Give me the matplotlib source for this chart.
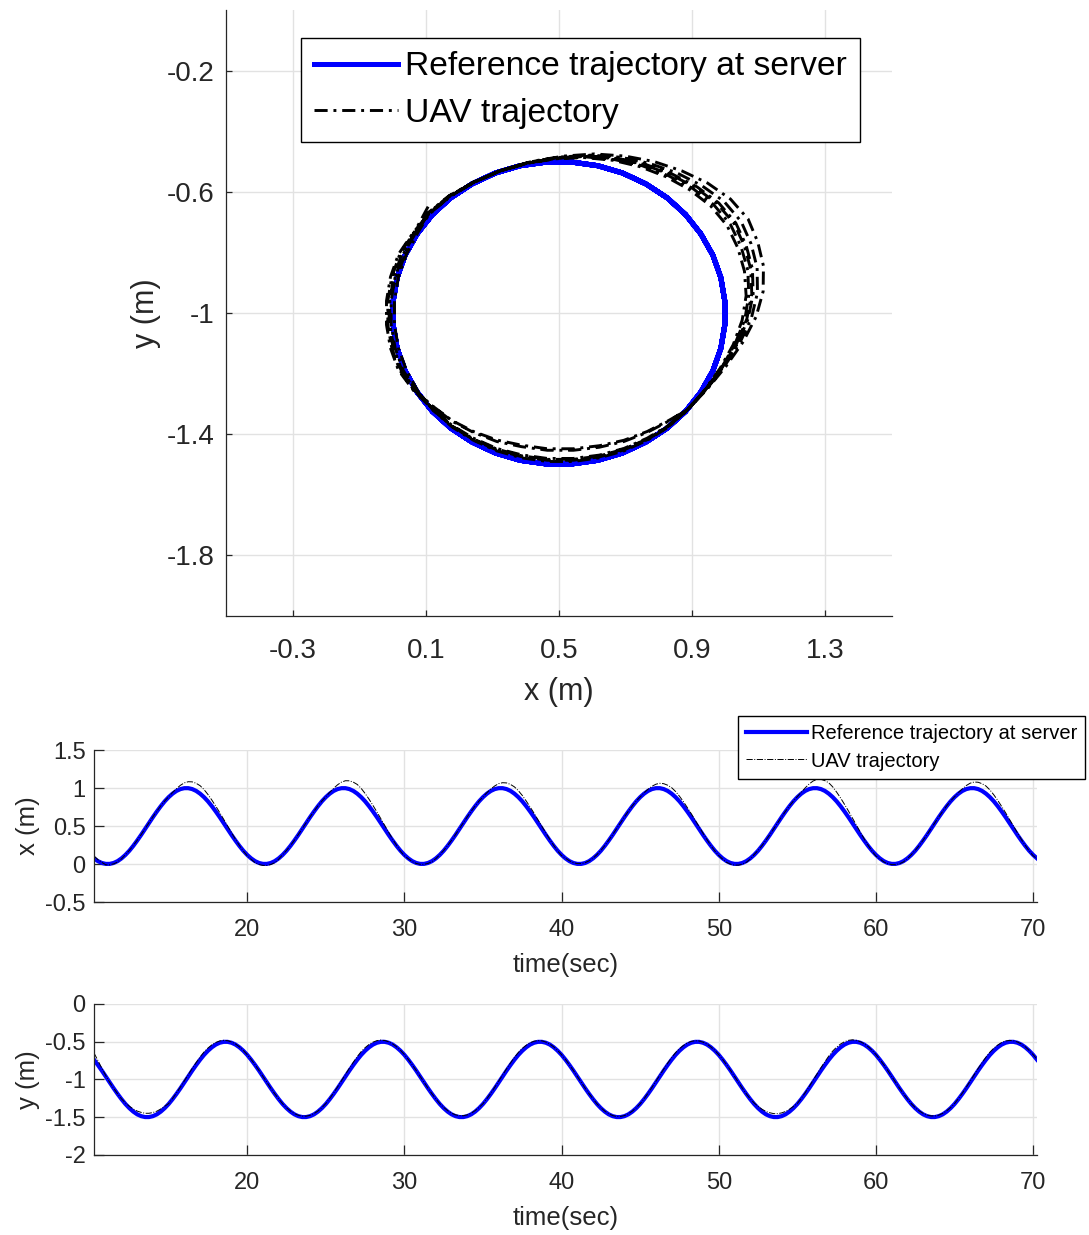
import numpy as np
import matplotlib
matplotlib.use("Agg")
import matplotlib.pyplot as plt
from matplotlib.ticker import FormatStrFormatter

plt.rcParams['font.family'] = ['Liberation Sans', 'DejaVu Sans']
plt.rcParams['axes.unicode_minus'] = False

## sample clock of the log (every 0.25 s)
time = np.arange(10.25, 70.3, 0.25)

## reference trajectory sent by the server (one row block per 10 s lap)
x_ref = [0.074, 0.038, 0.014, 0.002, 0.002, 0.014, 0.038, 0.074, 0.120, 0.175,
         0.239, 0.309, 0.383, 0.461, 0.539, 0.617, 0.691, 0.761, 0.825, 0.880,
         0.926, 0.962, 0.986, 0.998, 0.998, 0.986, 0.962, 0.926, 0.880, 0.825,
         0.761, 0.691, 0.617, 0.539, 0.461, 0.383, 0.309, 0.239, 0.175, 0.120,
         0.074, 0.038, 0.014, 0.002, 0.002, 0.014, 0.038, 0.074, 0.120, 0.175,
         0.239, 0.309, 0.383, 0.461, 0.539, 0.617, 0.691, 0.761, 0.825, 0.880,
         0.926, 0.962, 0.986, 0.998, 0.998, 0.986, 0.962, 0.926, 0.880, 0.825,
         0.761, 0.691, 0.617, 0.539, 0.461, 0.383, 0.309, 0.239, 0.175, 0.120,
         0.074, 0.038, 0.014, 0.002, 0.002, 0.014, 0.038, 0.074, 0.120, 0.175,
         0.239, 0.309, 0.383, 0.461, 0.539, 0.617, 0.691, 0.761, 0.825, 0.880,
         0.926, 0.962, 0.986, 0.998, 0.998, 0.986, 0.962, 0.926, 0.880, 0.825,
         0.761, 0.691, 0.617, 0.539, 0.461, 0.383, 0.309, 0.239, 0.175, 0.120,
         0.074, 0.038, 0.014, 0.002, 0.002, 0.014, 0.038, 0.074, 0.120, 0.175,
         0.239, 0.309, 0.383, 0.461, 0.539, 0.617, 0.691, 0.761, 0.825, 0.880,
         0.926, 0.962, 0.986, 0.998, 0.998, 0.986, 0.962, 0.926, 0.880, 0.825,
         0.761, 0.691, 0.617, 0.539, 0.461, 0.383, 0.309, 0.239, 0.175, 0.120,
         0.074, 0.038, 0.014, 0.002, 0.002, 0.014, 0.038, 0.074, 0.120, 0.175,
         0.239, 0.309, 0.383, 0.461, 0.539, 0.617, 0.691, 0.761, 0.825, 0.880,
         0.926, 0.962, 0.986, 0.998, 0.998, 0.986, 0.962, 0.926, 0.880, 0.825,
         0.761, 0.691, 0.617, 0.539, 0.461, 0.383, 0.309, 0.239, 0.175, 0.120,
         0.074, 0.038, 0.014, 0.002, 0.002, 0.014, 0.038, 0.074, 0.120, 0.175,
         0.239, 0.309, 0.383, 0.461, 0.539, 0.617, 0.691, 0.761, 0.825, 0.880,
         0.926, 0.962, 0.986, 0.998, 0.998, 0.986, 0.962, 0.926, 0.880, 0.825,
         0.761, 0.691, 0.617, 0.539, 0.461, 0.383, 0.309, 0.239, 0.175, 0.120,
         0.074]
y_ref = [-0.739, -0.809, -0.883, -0.961, -1.039, -1.117, -1.191, -1.261, -1.325, -1.380,
         -1.426, -1.462, -1.486, -1.498, -1.498, -1.486, -1.462, -1.426, -1.380, -1.325,
         -1.261, -1.191, -1.117, -1.039, -0.961, -0.883, -0.809, -0.739, -0.675, -0.620,
         -0.574, -0.538, -0.514, -0.502, -0.502, -0.514, -0.538, -0.574, -0.620, -0.675,
         -0.739, -0.809, -0.883, -0.961, -1.039, -1.117, -1.191, -1.261, -1.325, -1.380,
         -1.426, -1.462, -1.486, -1.498, -1.498, -1.486, -1.462, -1.426, -1.380, -1.325,
         -1.261, -1.191, -1.117, -1.039, -0.961, -0.883, -0.809, -0.739, -0.675, -0.620,
         -0.574, -0.538, -0.514, -0.502, -0.502, -0.514, -0.538, -0.574, -0.620, -0.675,
         -0.739, -0.809, -0.883, -0.961, -1.039, -1.117, -1.191, -1.261, -1.325, -1.380,
         -1.426, -1.462, -1.486, -1.498, -1.498, -1.486, -1.462, -1.426, -1.380, -1.325,
         -1.261, -1.191, -1.117, -1.039, -0.961, -0.883, -0.809, -0.739, -0.675, -0.620,
         -0.574, -0.538, -0.514, -0.502, -0.502, -0.514, -0.538, -0.574, -0.620, -0.675,
         -0.739, -0.809, -0.883, -0.961, -1.039, -1.117, -1.191, -1.261, -1.325, -1.380,
         -1.426, -1.462, -1.486, -1.498, -1.498, -1.486, -1.462, -1.426, -1.380, -1.325,
         -1.261, -1.191, -1.117, -1.039, -0.961, -0.883, -0.809, -0.739, -0.675, -0.620,
         -0.574, -0.538, -0.514, -0.502, -0.502, -0.514, -0.538, -0.574, -0.620, -0.675,
         -0.739, -0.809, -0.883, -0.961, -1.039, -1.117, -1.191, -1.261, -1.325, -1.380,
         -1.426, -1.462, -1.486, -1.498, -1.498, -1.486, -1.462, -1.426, -1.380, -1.325,
         -1.261, -1.191, -1.117, -1.039, -0.961, -0.883, -0.809, -0.739, -0.675, -0.620,
         -0.574, -0.538, -0.514, -0.502, -0.502, -0.514, -0.538, -0.574, -0.620, -0.675,
         -0.739, -0.809, -0.883, -0.961, -1.039, -1.117, -1.191, -1.261, -1.325, -1.380,
         -1.426, -1.462, -1.486, -1.498, -1.498, -1.486, -1.462, -1.426, -1.380, -1.325,
         -1.261, -1.191, -1.117, -1.039, -0.961, -0.883, -0.809, -0.739, -0.675, -0.620,
         -0.574, -0.538, -0.514, -0.502, -0.502, -0.514, -0.538, -0.574, -0.620, -0.675,
         -0.739]

## measured UAV position
x_uav = [0.107, 0.058, 0.022, -0.010, -0.010, 0.002, 0.026, 0.068, 0.124, 0.179,
         0.243, 0.313, 0.387, 0.465, 0.543, 0.621, 0.695, 0.765, 0.829, 0.885,
         0.941, 0.992, 1.036, 1.068, 1.083, 1.081, 1.062, 1.031, 0.980, 0.915,
         0.841, 0.761, 0.677, 0.589, 0.501, 0.411, 0.325, 0.245, 0.171, 0.110,
         0.062, 0.018, -0.006, -0.018, -0.018, -0.006, 0.018, 0.064, 0.124, 0.179,
         0.243, 0.313, 0.387, 0.465, 0.543, 0.621, 0.695, 0.765, 0.829, 0.886,
         0.943, 0.996, 1.043, 1.078, 1.096, 1.095, 1.077, 1.047, 0.995, 0.928,
         0.853, 0.771, 0.686, 0.596, 0.507, 0.415, 0.327, 0.246, 0.170, 0.108,
         0.070, 0.032, 0.008, -0.004, -0.004, 0.008, 0.032, 0.071, 0.124, 0.179,
         0.243, 0.313, 0.387, 0.465, 0.543, 0.621, 0.695, 0.765, 0.829, 0.884,
         0.939, 0.988, 1.028, 1.058, 1.070, 1.067, 1.047, 1.015, 0.965, 0.902,
         0.829, 0.750, 0.668, 0.582, 0.495, 0.407, 0.323, 0.244, 0.172, 0.111,
         0.076, 0.042, 0.018, 0.006, 0.006, 0.018, 0.042, 0.076, 0.124, 0.179,
         0.243, 0.313, 0.387, 0.465, 0.543, 0.621, 0.695, 0.765, 0.829, 0.884,
         0.937, 0.984, 1.023, 1.050, 1.062, 1.057, 1.037, 1.005, 0.955, 0.892,
         0.821, 0.743, 0.662, 0.576, 0.491, 0.404, 0.321, 0.243, 0.172, 0.112,
         0.064, 0.022, -0.002, -0.014, -0.014, -0.002, 0.022, 0.066, 0.124, 0.179,
         0.243, 0.313, 0.387, 0.465, 0.543, 0.621, 0.695, 0.765, 0.829, 0.887,
         0.946, 1.002, 1.053, 1.092, 1.113, 1.114, 1.097, 1.068, 1.015, 0.946,
         0.869, 0.785, 0.698, 0.606, 0.515, 0.421, 0.331, 0.247, 0.170, 0.106,
         0.068, 0.028, 0.004, -0.008, -0.008, 0.004, 0.028, 0.069, 0.124, 0.179,
         0.243, 0.313, 0.387, 0.465, 0.543, 0.621, 0.695, 0.765, 0.829, 0.885,
         0.940, 0.990, 1.033, 1.064, 1.079, 1.076, 1.057, 1.026, 0.975, 0.910,
         0.837, 0.757, 0.674, 0.586, 0.499, 0.410, 0.324, 0.245, 0.171, 0.110,
         0.068]
y_uav = [-0.649, -0.749, -0.853, -0.949, -1.039, -1.116, -1.189, -1.257, -1.310, -1.355,
         -1.391, -1.419, -1.436, -1.448, -1.448, -1.438, -1.420, -1.391, -1.355, -1.320,
         -1.253, -1.179, -1.101, -1.019, -0.937, -0.855, -0.777, -0.703, -0.637, -0.584,
         -0.542, -0.510, -0.490, -0.482, -0.487, -0.503, -0.530, -0.568, -0.615, -0.671,
         -0.735, -0.806, -0.881, -0.960, -1.039, -1.116, -1.189, -1.257, -1.321, -1.374,
         -1.418, -1.452, -1.474, -1.486, -1.486, -1.475, -1.452, -1.418, -1.374, -1.319,
         -1.252, -1.177, -1.099, -1.016, -0.933, -0.851, -0.772, -0.698, -0.631, -0.579,
         -0.537, -0.506, -0.486, -0.479, -0.485, -0.501, -0.529, -0.567, -0.614, -0.670,
         -0.735, -0.806, -0.881, -0.960, -1.039, -1.116, -1.189, -1.257, -1.320, -1.371,
         -1.413, -1.447, -1.468, -1.480, -1.480, -1.469, -1.447, -1.413, -1.371, -1.321,
         -1.254, -1.181, -1.103, -1.022, -0.941, -0.859, -0.782, -0.708, -0.643, -0.589,
         -0.547, -0.514, -0.494, -0.485, -0.489, -0.505, -0.531, -0.569, -0.616, -0.672,
         -0.735, -0.806, -0.881, -0.960, -1.039, -1.116, -1.189, -1.257, -1.323, -1.376,
         -1.420, -1.455, -1.478, -1.490, -1.490, -1.478, -1.455, -1.420, -1.376, -1.321,
         -1.255, -1.182, -1.105, -1.024, -0.943, -0.862, -0.785, -0.712, -0.646, -0.593,
         -0.550, -0.517, -0.496, -0.487, -0.491, -0.506, -0.532, -0.570, -0.616, -0.672,
         -0.735, -0.806, -0.881, -0.960, -1.039, -1.116, -1.189, -1.257, -1.311, -1.357,
         -1.394, -1.424, -1.441, -1.453, -1.453, -1.443, -1.424, -1.394, -1.357, -1.318,
         -1.250, -1.175, -1.095, -1.012, -0.929, -0.845, -0.766, -0.690, -0.624, -0.571,
         -0.531, -0.500, -0.482, -0.475, -0.482, -0.499, -0.527, -0.566, -0.613, -0.670,
         -0.735, -0.806, -0.881, -0.960, -1.039, -1.116, -1.189, -1.257, -1.321, -1.373,
         -1.416, -1.449, -1.471, -1.483, -1.483, -1.472, -1.449, -1.416, -1.373, -1.320,
         -1.253, -1.180, -1.102, -1.020, -0.938, -0.856, -0.779, -0.705, -0.639, -0.586,
         -0.544, -0.511, -0.491, -0.483, -0.488, -0.504, -0.530, -0.568, -0.615, -0.671,
         -0.735]

ref_label = "Reference trajectory at server"
uav_label = "UAV trajectory"
dark = '#262626'
dashdot = (0, (4.5, 2, 1, 2))


def matlab_look(ax, size, ticklen, xpad, ypad):
    for s in ['top', 'right']:
        ax.spines[s].set_visible(False)
    for s in ['left', 'bottom']:
        ax.spines[s].set_color(dark)
        ax.spines[s].set_linewidth(0.9)
    ax.tick_params(direction='in', length=ticklen, width=0.9, color=dark,
                   labelcolor=dark, labelsize=size)
    ax.tick_params(axis='x', pad=xpad)
    ax.tick_params(axis='y', pad=ypad)
    ax.grid(True, color='#e2e2e2', linewidth=1.0)
    ax.set_axisbelow(True)
    ax.xaxis.set_major_formatter(FormatStrFormatter('%g'))
    ax.yaxis.set_major_formatter(FormatStrFormatter('%g'))


fig = plt.figure(figsize=(10.89, 12.35), dpi=100)

### x-y plane
ax1 = fig.add_axes([0.2075, 0.5012, 0.6116, 0.4907])
ax1.plot(x_ref, y_ref, color='blue', lw=3.6, label=ref_label)
ax1.plot(x_uav, y_uav, color='black', linestyle=dashdot, lw=2.1, label=uav_label)
ax1.set_xlim(-0.5, 1.5)
ax1.set_ylim(-2, 0)
ax1.set_xticks([-0.3, 0.1, 0.5, 0.9, 1.3])
ax1.set_yticks([-1.8, -1.4, -1, -0.6, -0.2])
matlab_look(ax1, 20, 4, 16, 8)
ax1.set_xlabel("x (m)", fontsize=22, color=dark, labelpad=9)
ax1.set_ylabel("y (m)", fontsize=22, color=dark, labelpad=4)
ax1.legend(loc='upper left', bbox_to_anchor=(301 / 1089, 1 - 38 / 1235),
           bbox_transform=fig.transFigure, fontsize=24.2, handlelength=2.5,
           handletextpad=0.2, borderpad=0.4, labelspacing=0.45, borderaxespad=0,
           fancybox=False, framealpha=1, edgecolor='black')

### x over time
ax2 = fig.add_axes([0.0863, 0.2696, 0.866, 0.1231])
ax2.plot(time, x_ref, color='blue', lw=3, label=ref_label)
ax2.plot(time, x_uav, 'k-.', lw=0.7, label=uav_label)
ax2.set_xlim(10.25, 70.25)
ax2.set_ylim(-0.5, 1.5)
ax2.set_xticks([20, 30, 40, 50, 60, 70])
ax2.set_yticks([-0.5, 0, 0.5, 1, 1.5])
matlab_look(ax2, 17, 7, 12, 6)
ax2.set_xlabel("time(sec)", fontsize=18.5, color=dark, labelpad=9)
ax2.set_ylabel("x (m)", fontsize=18.5, color=dark, labelpad=4)
ax2.legend(loc='upper right', bbox_to_anchor=(1085 / 1089, 1 - 716 / 1235),
           bbox_transform=fig.transFigure, fontsize=14.5, handlelength=3.0,
           handletextpad=0.2, borderpad=0.4, labelspacing=0.42, borderaxespad=0,
           fancybox=False, framealpha=1, edgecolor='black')

### y over time
ax3 = fig.add_axes([0.0863, 0.0648, 0.866, 0.1223])
ax3.plot(time, y_ref, color='blue', lw=3, label=ref_label)
ax3.plot(time, y_uav, 'k-.', lw=0.7, label=uav_label)
ax3.set_xlim(10.25, 70.25)
ax3.set_ylim(-2, 0)
ax3.set_xticks([20, 30, 40, 50, 60, 70])
ax3.set_yticks([-2, -1.5, -1, -0.5, 0])
matlab_look(ax3, 17, 7, 12, 6)
ax3.set_xlabel("time(sec)", fontsize=18.5, color=dark, labelpad=9)
ax3.set_ylabel("y (m)", fontsize=18.5, color=dark, labelpad=4)

fig.savefig("out.png", dpi=100)
